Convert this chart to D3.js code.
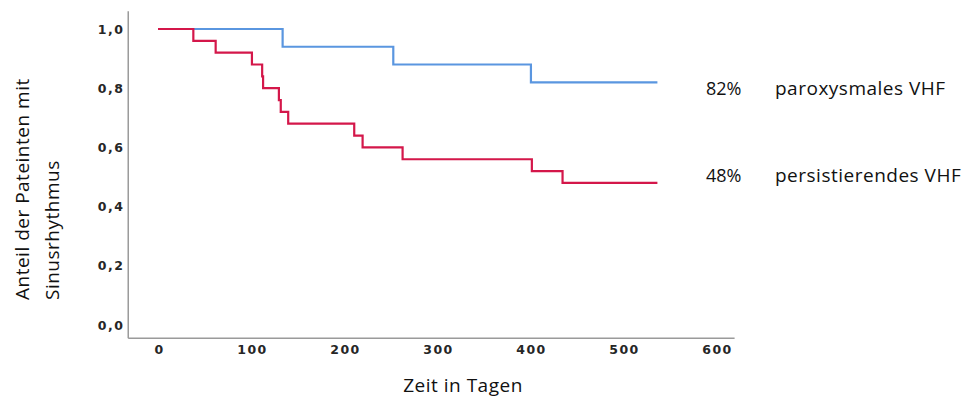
<!DOCTYPE html>
<html>
<head>
<meta charset="utf-8">
<script src="https://cdn.jsdelivr.net/npm/d3@7"></script>
<style>
  body { margin: 0; background: #fff; }
  .tick text { font-family: "DejaVu Sans", Verdana, sans-serif; font-weight: bold; font-size: 12.5px; letter-spacing: 1.5px; fill: #262626; }
  .lbl { font-family: "Open Sans", "Noto Sans", sans-serif; font-size: 19px; letter-spacing: 0.5px; fill: #111; }
  .pct { letter-spacing: 0; font-size: 18px; }
</style>
</head>
<body>
<div id="chart"></div>
<script>
"use strict";

// Kaplan-Meier steps (days, fraction in sinus rhythm)
const paroxDays = [0, 134, 253, 401, 537];
const paroxVals = [1.0, 0.94, 0.88, 0.82, 0.82];
const persDays = [0, 38, 62, 101, 112, 113, 130, 132, 140, 211, 220, 263, 402, 435, 537];
const persVals = [1.0, 0.96, 0.92, 0.88, 0.84, 0.80, 0.76, 0.72, 0.68, 0.64, 0.60, 0.56, 0.52, 0.48, 0.48];
const xTicks = [0, 100, 200, 300, 400, 500, 600];
const yTicks = [0, 0.2, 0.4, 0.6, 0.8, 1.0];
const seriesPct = ["82%", "48%"];
const seriesNames = ["paroxysmales VHF", "persistierendes VHF"];

const width = 969, height = 412;

const x = d3.scaleLinear().domain([0, 600]).range([158, 716]);
const y = d3.scaleLinear().domain([0, 1]).range([325, 29]);

const svg = d3.select("#chart")
    .append("svg")
    .attr("width", width)
    .attr("height", height);

// axis lines
svg.append("line")
    .attr("x1", x(-32)).attr("x2", x(-32))
    .attr("y1", y(1.06)).attr("y2", y(-0.045))
    .attr("stroke", "#9a9a9a").attr("stroke-width", 1.5);
svg.append("line")
    .attr("x1", x(-32)).attr("x2", x(620))
    .attr("y1", y(-0.045)).attr("y2", y(-0.045))
    .attr("stroke", "#9a9a9a").attr("stroke-width", 1.5);

const xAxis = svg.append("g")
    .attr("transform", `translate(1, ${y(-0.045) + 4})`)
    .call(d3.axisBottom(x).tickValues(xTicks).tickSize(0).tickPadding(3));
xAxis.select(".domain").remove();

const yAxis = svg.append("g")
    .attr("transform", `translate(124.5, 0)`)
    .call(d3.axisLeft(y).tickValues(yTicks).tickSize(0).tickPadding(0)
        .tickFormat(d => d3.format(".1f")(d).replace(".", ",")));
yAxis.select(".domain").remove();

const line = d3.line()
    .x(d => x(d[0]))
    .y(d => y(d[1]))
    .curve(d3.curveStepAfter);

svg.append("path")
    .datum(paroxDays.map((d, i) => [d, paroxVals[i]]))
    .attr("fill", "none")
    .attr("stroke", "#5a96e0")
    .attr("stroke-width", 2.2)
    .attr("d", line);

svg.append("path")
    .datum(persDays.map((d, i) => [d, persVals[i]]))
    .attr("fill", "none")
    .attr("stroke", "#d4174a")
    .attr("stroke-width", 2.2)
    .attr("d", line);

// series labels
const labelY = [95, 182];
seriesPct.forEach((p, i) => {
    svg.append("text").attr("class", "lbl pct")
        .attr("x", 706).attr("y", labelY[i])
        .text(p);
    svg.append("text").attr("class", "lbl")
        .attr("x", 775).attr("y", labelY[i])
        .text(seriesNames[i]);
});

// axis titles
svg.append("text").attr("class", "lbl")
    .attr("text-anchor", "middle")
    .attr("x", 463).attr("y", 392)
    .text("Zeit in Tagen");

svg.append("text").attr("class", "lbl")
    .attr("transform", "translate(29, 300) rotate(-90)")
    .text("Anteil der Pateinten mit");
svg.append("text").attr("class", "lbl")
    .attr("transform", "translate(59, 300) rotate(-90)")
    .text("Sinusrhythmus");
</script>
</body>
</html>
